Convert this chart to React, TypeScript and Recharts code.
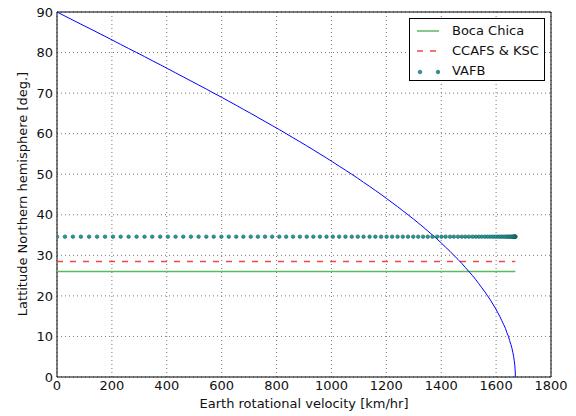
import React from 'react';
import {
  ComposedChart,
  Line,
  Scatter,
  XAxis,
  YAxis,
  CartesianGrid,
  ReferenceArea,
} from 'recharts';

// latitude in degrees, and the matching rotational velocity (km/hr)
const latitudes = [
  0, 1, 2, 3, 4, 5, 6, 7, 8, 9, 10, 11, 12, 13, 14, 15, 16, 17, 18, 19, 20, 21, 22, 23, 24, 25,
  26, 27, 28, 29, 30, 31, 32, 33, 34, 35, 36, 37, 38, 39, 40, 41, 42, 43, 44, 45, 46, 47, 48, 49,
  50, 51, 52, 53, 54, 55, 56, 57, 58, 59, 60, 61, 62, 63, 64, 65, 66, 67, 68, 69, 70, 71, 72, 73,
  74, 75, 76, 77, 78, 79, 80, 81, 82, 83, 84, 85, 86, 87, 88, 89, 90,
];
const velocities = [
  1670, 1670, 1669, 1668, 1666, 1664, 1661, 1658, 1654, 1649, 1645, 1639, 1634, 1627, 1620, 1613,
  1605, 1597, 1588, 1579, 1569, 1559, 1548, 1537, 1526, 1514, 1501, 1488, 1475, 1461, 1446, 1432,
  1416, 1401, 1385, 1368, 1351, 1334, 1316, 1298, 1279, 1260, 1241, 1221, 1201, 1181, 1160, 1139,
  1117, 1096, 1074, 1051, 1028, 1005, 982, 958, 934, 910, 885, 860, 835, 810, 784, 758, 732, 706,
  679, 653, 626, 599, 571, 544, 516, 488, 460, 432, 404, 376, 347, 319, 290, 261, 232, 204, 175,
  146, 117, 87, 58, 29, 0,
];

const bocaChicaLat = 26.0;
const ccafsLat = 28.5;
const vafbLat = 34.6;
const lineEnds = [0, 1670];

const xTicks = [0, 200, 400, 600, 800, 1000, 1200, 1400, 1600, 1800];
const yTicks = [0, 10, 20, 30, 40, 50, 60, 70, 80, 90];

const curveData = velocities.map((v, i) => ({ v, lat: latitudes[i] }));
const bocaData = lineEnds.map(v => ({ v, lat: bocaChicaLat }));
const ccafsData = lineEnds.map(v => ({ v, lat: ccafsLat }));
const vafbData = velocities.map(v => ({ v, lat: vafbLat }));

const FONT = '"DejaVu Sans", sans-serif';
const tickStyle = { fill: '#111', fontSize: 13, fontFamily: FONT };

const GREEN = '#5cb85c';
const RED = '#f04848';
const TEAL = '#1f9c9c';

const VafbDot = (p: any) => (
  <circle cx={p.cx} cy={p.cy} r={1.8} fill={TEAL} stroke="#0d4545" strokeWidth={0.5} />
);

const LegendBox = () => (
  <div
    style={{
      position: 'absolute',
      left: 409,
      top: 18,
      width: 136,
      height: 63,
      background: '#fff',
      border: '1px solid #000',
      fontFamily: FONT,
      fontSize: 13,
      color: '#111',
      boxSizing: 'border-box',
    }}
  >
    {[
      { name: 'Boca Chica', kind: 'line' },
      { name: 'CCAFS & KSC', kind: 'dash' },
      { name: 'VAFB', kind: 'dots' },
    ].map((item, i) => (
      <div key={item.name} style={{ position: 'absolute', left: 0, top: 3 + i * 20, height: 18, width: '100%' }}>
        <svg width={40} height={18} style={{ position: 'absolute', left: 0, top: 0 }}>
          {item.kind === 'line' && <line x1={7} x2={29} y1={9} y2={9} stroke={GREEN} strokeWidth={1.5} />}
          {item.kind === 'dash' && (
            <line x1={7} x2={29} y1={9} y2={9} stroke={RED} strokeWidth={1.5} strokeDasharray="6 7" />
          )}
          {item.kind === 'dots' && (
            <>
              <circle cx={10} cy={10} r={1.8} fill={TEAL} stroke="#0d4545" strokeWidth={0.5} />
              <circle cx={28} cy={10} r={1.8} fill={TEAL} stroke="#0d4545" strokeWidth={0.5} />
            </>
          )}
        </svg>
        <span style={{ position: 'absolute', left: 42, top: 1, whiteSpace: 'nowrap' }}>{item.name}</span>
      </div>
    ))}
  </div>
);

export default function App() {
  return (
    <div style={{ position: 'absolute', left: 0, top: 0, width: 576, height: 416, background: '#fff' }}>
      <ComposedChart width={576} height={416} margin={{ top: 12, right: 25, bottom: 0, left: 0 }}>
        <CartesianGrid stroke="#777" strokeDasharray="1 3" />
        <XAxis
          type="number"
          dataKey="v"
          domain={[0, 1800]}
          ticks={xTicks}
          allowDataOverflow
          height={39}
          tick={tickStyle}
          tickLine={false}
          axisLine={false}
          tickSize={4}
          tickMargin={0}
          label={{
            content: () => (
              <text x={304} y={403} textAnchor="middle" dominantBaseline="central" fontSize={13} fontFamily={FONT} fill="#111">
                Earth rotational velocity [km/hr]
              </text>
            ),
          }}
        />
        <YAxis
          type="number"
          dataKey="lat"
          domain={[0, 90]}
          ticks={yTicks}
          allowDataOverflow
          width={57}
          tick={tickStyle}
          tickLine={false}
          axisLine={false}
          tickSize={4}
          tickMargin={0}
          label={{
            content: () => (
              <text
                x={22}
                y={194}
                transform="rotate(-90 22 194)"
                textAnchor="middle"
                dominantBaseline="central"
                fontSize={13}
                fontFamily={FONT}
                fill="#111"
              >
                Lattitude Northern hemisphere [deg.]
              </text>
            ),
          }}
        />
        <Line
          data={bocaData}
          dataKey="lat"
          stroke={GREEN}
          strokeWidth={1.5}
          dot={false}
          isAnimationActive={false}
        />
        <Line
          data={ccafsData}
          dataKey="lat"
          stroke={RED}
          strokeWidth={1.5}
          strokeDasharray="6 7"
          dot={false}
          isAnimationActive={false}
        />
        <Scatter data={vafbData} dataKey="lat" shape={VafbDot} isAnimationActive={false} />
        <Line
          data={curveData}
          dataKey="lat"
          stroke="#0000ff"
          strokeWidth={1}
          dot={false}
          isAnimationActive={false}
        />
        <ReferenceArea x1={0} x2={1800} y1={0} y2={90} fill="none" stroke="#000" strokeWidth={1} />
      </ComposedChart>
      <LegendBox />
    </div>
  );
}
